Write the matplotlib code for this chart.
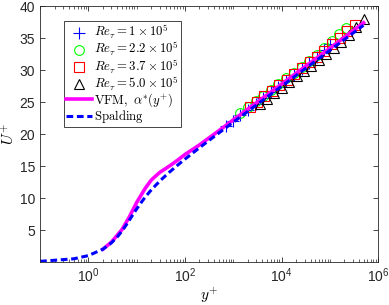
import numpy as np
import matplotlib
matplotlib.use("Agg")
import matplotlib.pyplot as plt
from matplotlib.ticker import LogLocator, NullFormatter, FixedLocator

plt.rcParams['font.family'] = ['Liberation Sans', 'DejaVu Sans']
plt.rcParams['mathtext.fontset'] = 'cm'

yp_1e5 = [700, 1000, 1400, 2000, 2900, 4200, 6000, 8600, 12500, 18000, 26000, 37000, 53000, 76000, 100000]
up_1e5 = [21.2, 22.1, 22.9, 23.8, 24.7, 25.6, 26.5, 27.4, 28.3, 29.2, 30.2, 31.1, 32.1, 33.2, 34.0]

yp_22e5 = [1400, 2000, 2900, 4200, 6000, 8600, 12500, 18000, 26000, 37000, 53000, 76000, 110000, 155000, 220000]
up_22e5 = [23.3, 24.2, 25.1, 26.0, 26.9, 27.8, 28.7, 29.6, 30.5, 31.4, 32.4, 33.4, 34.5, 35.6, 36.6]

yp_37e5 = [2200, 3100, 4400, 6300, 9000, 13000, 18500, 26500, 38000, 54000, 77000, 110000, 160000, 230000, 330000]
up_37e5 = [24.2, 25.0, 25.9, 26.8, 27.6, 28.5, 29.4, 30.3, 31.2, 32.1, 33.0, 34.0, 35.0, 36.1, 37.1]

yp_5e5 = [3500, 5000, 7100, 10000, 14500, 20500, 29000, 41000, 59000, 84000, 120000, 170000, 245000, 350000, 500000]
up_5e5 = [24.7, 25.5, 26.4, 27.2, 28.1, 29.0, 29.8, 30.7, 31.6, 32.5, 33.4, 34.4, 35.5, 36.7, 38.0]

# ---- model curves ----
yp_vfm = [2, 3, 5, 7, 10, 15, 20, 30, 50, 70, 100, 200, 500, 1000, 10000, 100000, 500000]
up_vfm = [2.0, 3.1, 5.1, 7.0, 9.3, 11.5, 12.8, 14.0, 15.1, 15.9, 16.8, 18.3, 20.5, 22.2, 27.8, 33.4, 37.4]

yp_spal = [0.1, 0.5, 1.0, 2.0, 3.01, 4.06, 5.15, 6.35, 7.73, 9.42, 11.6, 14.55, 18.7, 24.8,
           33.7, 47.0, 67.0, 97.1, 211, 471, 1064, 3640, 28300, 220000, 498000]
up_spal = [0.1, 0.5, 1.0, 2.0, 3.0, 4.0, 5.0, 6.0, 7.0, 8.0, 9.0, 10.0, 11.0, 12.0,
           13.0, 14.0, 15.0, 16.0, 18.0, 20.0, 22.0, 25.0, 30.0, 35.0, 37.0]

fig = plt.figure(figsize=(3.89, 3.05), dpi=100)
ax = fig.add_axes([0.103, 0.141, 0.869, 0.839])

ax.plot(yp_1e5, up_1e5, '+', color='blue', ms=8, mew=0.8, label=r'$Re_\tau = 1\times10^5$')
ax.plot(yp_22e5, up_22e5, 'o', color=(0, 1, 0), mfc='none', ms=7, mew=0.8, label=r'$Re_\tau = 2.2\times10^5$')
ax.plot(yp_37e5, up_37e5, 's', color='red', mfc='none', ms=6.5, mew=0.8, label=r'$Re_\tau = 3.7\times10^5$')
ax.plot(yp_5e5, up_5e5, '^', color='black', mfc='none', ms=7, mew=0.8, label=r'$Re_\tau = 5.0\times10^5$')
ax.plot(yp_vfm, up_vfm, '-', color='magenta', lw=2.6, label=r'$\mathrm{VFM,}\ \alpha^{*}(y^{+})$')
ax.plot(yp_spal, up_spal, '--', color='blue', lw=2.2, dashes=(2.2, 1.2), label=r'$\mathrm{Spalding}$')

ax.set_xscale('log')
ax.set_xlim(0.1, 1e6)
ax.set_ylim(0, 40)
ax.xaxis.set_major_locator(FixedLocator([1, 1e2, 1e4, 1e6]))
ax.xaxis.set_minor_locator(LogLocator(base=10, subs=np.arange(1, 10), numticks=20))
ax.xaxis.set_minor_formatter(NullFormatter())
ax.set_yticks([5, 10, 15, 20, 25, 30, 35, 40])

gray = '#262626'
for s in ax.spines.values():
    s.set_color(gray)
    s.set_linewidth(0.6)
ax.tick_params(which='both', direction='in', top=True, right=True, colors=gray, labelsize=10)
ax.tick_params(which='major', length=3.5, width=0.6)
ax.tick_params(which='minor', length=2, width=0.5)
for lab in ax.get_xticklabels() + ax.get_yticklabels():
    lab.set_color(gray)

ax.set_xlabel(r'$y^{+}$', fontsize=11, labelpad=0)
ax.set_ylabel(r'$U^{+}$', fontsize=11, labelpad=2)

leg = ax.legend(loc='upper left', bbox_to_anchor=(0.072, 0.94), fontsize=9.2, handlelength=2.0,
                handletextpad=0.2, borderpad=0.15, labelspacing=-0.08, borderaxespad=0,
                fancybox=False, edgecolor=gray, framealpha=1)
leg.get_frame().set_linewidth(0.6)

fig.savefig('out.png', dpi=100)
